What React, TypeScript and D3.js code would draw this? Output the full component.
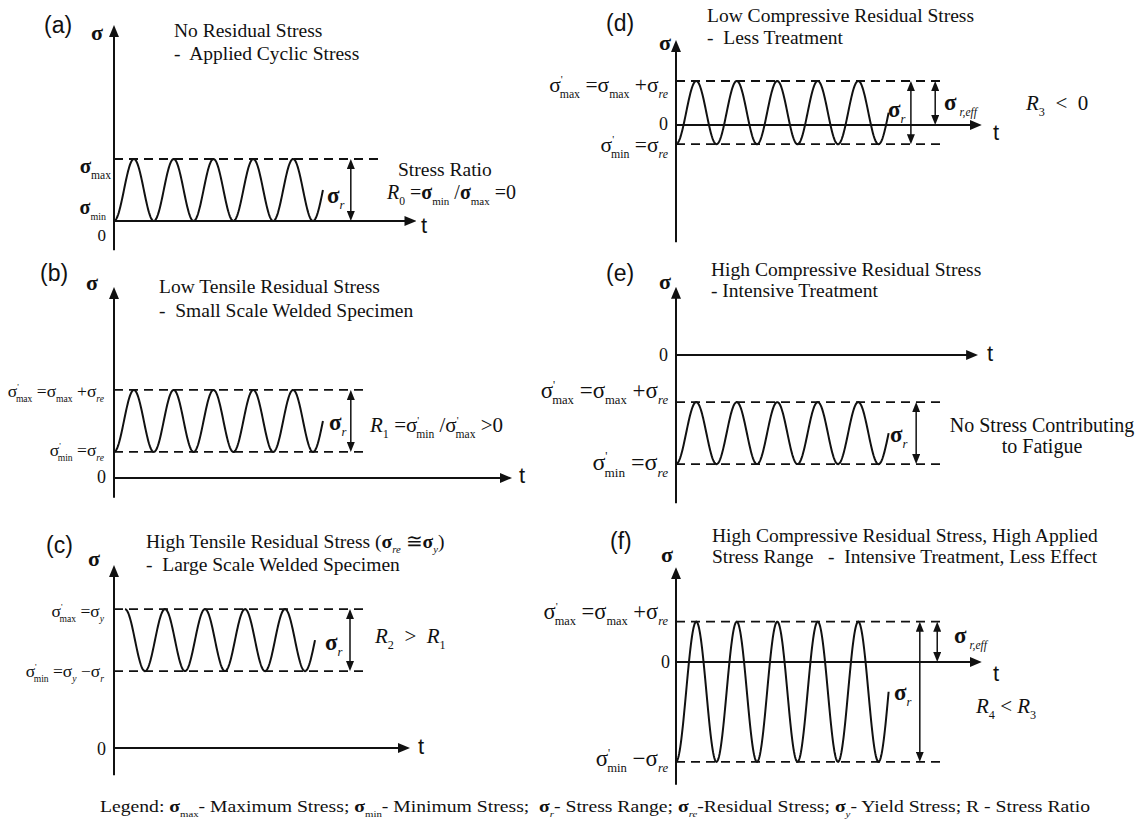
import React from 'react';
import * as d3 from 'd3';

// ---------------- Data (stress in units of applied stress range; time in load cycles) ----------------
const panelLetters = ['(a)', '(b)', '(c)', '(d)', '(e)', '(f)'];
const titleLine1 = [
  'No Residual Stress',
  'Low Tensile Residual Stress',
  'High Tensile Residual Stress (',
  'Low Compressive Residual Stress',
  'High Compressive Residual Stress',
  'High Compressive Residual Stress, High Applied',
];
const titleLine2 = [
  '-  Applied Cyclic Stress',
  '-  Small Scale Welded Specimen',
  '-  Large Scale Welded Specimen',
  '-  Less Treatment',
  '- Intensive Treatment',
  'Stress Range   -  Intensive Treatment, Less Effect',
];
const stressMax = [1.0, 1.42, 2.24, 0.71, -0.76, 0.65];
const stressMin = [0.0, 0.42, 1.24, -0.31, -1.76, -1.61];
const axisTop = [3.16, 3.08, 2.95, 1.37, 1.1, 1.53];
const axisBottom = [-0.47, -0.32, -0.44, -1.89, -2.39, -1.98];
const waveStart = [0, 0, 0.275, 0, 0, 0];
const waveStartPhase = [0.5, 0.5, 0, 0.5, 0.5, 0.5];
const waveCycles = [5.25, 5.25, 4.75, 5.25, 5.25, 5.25];
const timeAxisEnd = [7.6, 10.0, 7.4, 7.55, 7.46, 7.55];
const refLineEnd = [6.7, 6.35, 6.3, 6.6, 6.66, 6.6];
const rangeArrowAt = [5.95, 5.95, 5.9, 5.8, 5.93, 6.02];
const effArrowAt: (number | null)[] = [null, null, null, 6.4, null, 6.45];

// ---------------- Layout ----------------
const PX_PER_UNIT = 62;
const layout = [
  { axisX: 114, zeroY: 221, ppc: 39.8, letter: [44, 33], sig: [91, 40], title: [174, 37, 60], t: [421, 233], zero: [106, 241] },
  { axisX: 114, zeroY: 478, ppc: 39.8, letter: [40, 281], sig: [86, 290], title: [159, 293, 317], t: [519, 483], zero: [106, 483] },
  { axisX: 114, zeroY: 748, ppc: 40, letter: [46, 553], sig: [88, 566], title: [146, 548, 571], t: [418, 754], zero: [106, 755] },
  { axisX: 676, zeroY: 125, ppc: 40.5, letter: [606, 31], sig: [659, 50], title: [707, 22, 44], t: [993, 140], zero: [668, 130] },
  { axisX: 676, zeroY: 355, ppc: 40.5, letter: [606, 281], sig: [659, 289], title: [711, 276, 297], t: [987, 361], zero: [668, 361] },
  { axisX: 676, zeroY: 662, ppc: 40.5, letter: [610, 549], sig: [661, 562], title: [712, 542, 563], t: [993, 681], zero: [670, 668] },
];

const SERIF = "'Liberation Serif', 'Times New Roman', serif";
const SANS = "'Liberation Sans', Arial, sans-serif";
const T = 19.5;

type Seg = { t: string; b?: boolean; i?: boolean; sub?: boolean; sup?: boolean; k?: number; dx?: number };

function Rich({ x, y, size, segs, anchor = 'start', family = SERIF, textLength }: any) {
  let cur = 0;
  return (
    <text
      x={x}
      y={y}
      fontSize={size}
      fontFamily={family}
      textAnchor={anchor}
      style={{ whiteSpace: 'pre' }}
      textLength={textLength}
      lengthAdjust={textLength ? 'spacingAndGlyphs' : undefined}
      fill="#111"
    >
      {segs.map((s: Seg, j: number) => {
        const target = s.sub ? size * 0.28 : s.sup ? -size * 0.4 : 0;
        const dy = target - cur;
        cur = target;
        const fs = s.sub || s.sup ? size * (s.k ?? 0.58) : size * (s.k ?? 1);
        return (
          <tspan key={j} dy={dy !== 0 ? dy : undefined} dx={s.dx} fontSize={fs} fontWeight={s.b ? 'bold' : undefined} fontStyle={s.i ? 'italic' : undefined}>
            {s.t}
          </tspan>
        );
      })}
    </text>
  );
}

const sigB = (sub: string, it = true): Seg[] => [{ t: 'σ', b: true }, { t: sub, sub: true, i: it, k: 0.55 }];
const sigR = (sub: string, it = false): Seg[] => [{ t: 'σ' }, { t: sub, sub: true, i: it, k: 0.55 }];
const sigP = (sub: string): Seg[] => [{ t: 'σ' }, { t: "'", sup: true, k: 0.5 }, { t: sub, sub: true, k: 0.55, dx: -3 }];

function Panel({ i }: { i: number }) {
  const L = layout[i];
  const y = d3.scaleLinear().domain([0, 1]).range([L.zeroY, L.zeroY - PX_PER_UNIT]);
  const x = d3.scaleLinear().domain([0, 1]).range([L.axisX, L.axisX + L.ppc]);
  const mean = (stressMax[i] + stressMin[i]) / 2;
  const amp = (stressMax[i] - stressMin[i]) / 2;
  const n = 400;
  const pts: [number, number][] = d3.range(n + 1).map((k) => {
    const dt = (k / n) * waveCycles[i];
    const s = mean + amp * Math.cos(2 * Math.PI * (waveStartPhase[i] + dt));
    return [x(waveStart[i] + dt), y(s)];
  });
  const wave = d3.line()(pts) || '';
  const levels = [stressMax[i], stressMin[i]].filter((v) => v !== 0);
  const ra = rangeArrowAt[i];
  const ea = effArrowAt[i];
  return (
    <g>
      <text x={L.letter[0]} y={L.letter[1]} fontFamily={SANS} fontSize={23} fill="#111">{panelLetters[i]}</text>
      <text x={L.sig[0]} y={L.sig[1]} fontFamily={SERIF} fontSize={22} fontWeight="bold" fill="#111">σ</text>
      <text x={L.title[0]} y={L.title[2]} fontFamily={SERIF} fontSize={T} fill="#111" style={{ whiteSpace: 'pre' }}>{titleLine2[i]}</text>
      {/* axes */}
      <line x1={L.axisX} x2={L.axisX} y1={y(axisBottom[i])} y2={y(axisTop[i]) + 10} stroke="#111" strokeWidth={2} markerEnd="url(#axArrow)" />
      <line x1={L.axisX} x2={x(timeAxisEnd[i]) - 10} y1={y(0)} y2={y(0)} stroke="#111" strokeWidth={2} markerEnd="url(#axArrow)" />
      <text x={L.t[0]} y={L.t[1]} fontFamily={SANS} fontSize={22} fill="#111">t</text>
      <text x={L.zero[0]} y={L.zero[1]} fontFamily={SERIF} fontSize={i === 0 ? 17 : 18} textAnchor="end" fill="#111">0</text>
      {/* reference levels */}
      {levels.map((v, k) => (
        <line key={k} x1={L.axisX} x2={x(refLineEnd[i])} y1={y(v)} y2={y(v)} stroke="#111" strokeWidth={1.8} strokeDasharray="9 6" />
      ))}
      {/* cyclic stress */}
      <path d={wave} fill="none" stroke="#111" strokeWidth={2} />
      {/* stress range arrow */}
      <line x1={x(ra)} x2={x(ra)} y1={y(stressMax[i]) + 9} y2={y(stressMin[i]) - 9} stroke="#111" strokeWidth={1.5} markerStart="url(#rgArrow)" markerEnd="url(#rgArrow)" />
      {ea !== null && (
        <line x1={x(ea)} x2={x(ea)} y1={y(stressMax[i]) + 9} y2={y(0) - 9} stroke="#111" strokeWidth={1.5} markerStart="url(#rgArrow)" markerEnd="url(#rgArrow)" />
      )}
    </g>
  );
}

export default function App() {
  return (
    <svg width={1145} height={832} style={{ position: 'absolute', left: 0, top: 0, background: '#fff' }}>
      <defs>
        <marker id="axArrow" viewBox="0 0 12 10" refX={2} refY={5} markerWidth={12} markerHeight={10} markerUnits="userSpaceOnUse" orient="auto">
          <path d="M0,0 L12,5 L0,10 z" fill="#111" />
        </marker>
        <marker id="rgArrow" viewBox="0 0 10 8" refX={1} refY={4} markerWidth={10} markerHeight={8} markerUnits="userSpaceOnUse" orient="auto-start-reverse">
          <path d="M0,0 L10,4 L0,8 z" fill="#111" />
        </marker>
      </defs>
      <rect width={1145} height={832} fill="#fff" />
      {[0, 1, 2, 3, 4, 5].map((i) => <Panel key={i} i={i} />)}

      {/* titles line 1 */}
      <text x={174} y={37} fontFamily={SERIF} fontSize={T} fill="#111">{titleLine1[0]}</text>
      <text x={159} y={293} fontFamily={SERIF} fontSize={T} fill="#111">{titleLine1[1]}</text>
      <Rich x={146} y={548} size={T} segs={[{ t: titleLine1[2] }, ...sigB('re'), { t: ' ≅' }, ...sigB('y'), { t: ')' }]} />
      <text x={707} y={22} fontFamily={SERIF} fontSize={T} fill="#111">{titleLine1[3]}</text>
      <text x={711} y={276} fontFamily={SERIF} fontSize={T} fill="#111">{titleLine1[4]}</text>
      <text x={712} y={542} fontFamily={SERIF} fontSize={T} fill="#111">{titleLine1[5]}</text>

      {/* (a) */}
      <Rich x={111} y={173} size={21} anchor="end" segs={sigB('max', false)} />
      <Rich x={106} y={214} size={20} anchor="end" segs={[{ t: 'σ', b: true }, { t: 'min', sub: true, k: 0.5 }]} />
      <Rich x={327} y={203} size={23} segs={sigB('r')} />
      <text x={398} y={176} fontFamily={SERIF} fontSize={T} fill="#111">Stress Ratio</text>
      <Rich x={387} y={199} size={20} segs={[{ t: 'R', i: true }, { t: '0', sub: true }, { t: ' =' }, ...sigB('min', false), { t: ' /' }, ...sigB('max', false), { t: ' =0' }]} />

      {/* (b) */}
      <Rich x={104} y={397} size={17.5} anchor="end" segs={[...sigP('max'), { t: ' =' }, ...sigR('max'), { t: ' +' }, ...sigR('re', true)]} />
      <Rich x={104} y={456} size={17.5} anchor="end" segs={[...sigP('min'), { t: ' =' }, ...sigR('re', true)]} />
      <Rich x={329} y={430} size={23} segs={sigB('r')} />
      <Rich x={370} y={432} size={21} segs={[{ t: 'R', i: true }, { t: '1', sub: true }, { t: ' =' }, ...sigP('min'), { t: ' /' }, ...sigP('max'), { t: ' >0' }]} />

      {/* (c) */}
      <Rich x={104} y={617} size={17.5} anchor="end" segs={[...sigP('max'), { t: ' =' }, ...sigR('y', true)]} />
      <Rich x={104} y={677} size={17.5} anchor="end" segs={[...sigP('min'), { t: ' =' }, ...sigR('y', true), { t: ' −' }, ...sigR('r', true)]} />
      <Rich x={325} y={650} size={23} segs={sigB('r')} />
      <Rich x={375} y={643} size={21} segs={[{ t: 'R', i: true }, { t: '2', sub: true }, { t: '  >  ' }, { t: 'R', i: true }, { t: '1', sub: true }]} />

      {/* (d) */}
      <Rich x={668} y={92} size={21.5} anchor="end" segs={[...sigP('max'), { t: ' =' }, ...sigR('max'), { t: ' +' }, ...sigR('re', true)]} />
      <Rich x={668} y={152} size={21.5} anchor="end" segs={[...sigP('min'), { t: ' =' }, ...sigR('re', true)]} />
      <Rich x={888} y={117} size={23} segs={sigB('r')} />
      <Rich x={944} y={110} size={23} segs={[{ t: 'σ', b: true }, { t: ' r,eff', sub: true, i: true, k: 0.5 }]} />
      <Rich x={1026} y={110} size={21} segs={[{ t: 'R', i: true }, { t: '3', sub: true }, { t: '  <  0' }]} />

      {/* (e) */}
      <Rich x={668} y={398} size={23} anchor="end" segs={[...sigP('max'), { t: ' =' }, ...sigR('max'), { t: ' +' }, ...sigR('re', true)]} />
      <Rich x={668} y={470} size={24} anchor="end" segs={[...sigP('min'), { t: ' =' }, ...sigR('re', true)]} />
      <Rich x={890} y={442} size={23} segs={sigB('r')} />
      <text x={1042} y={432} fontFamily={SERIF} fontSize={20} textAnchor="middle" fill="#111">No Stress Contributing</text>
      <text x={1042} y={453} fontFamily={SERIF} fontSize={20} textAnchor="middle" fill="#111">to Fatigue</text>

      {/* (f) */}
      <Rich x={668} y={619} size={22.5} anchor="end" segs={[...sigP('max'), { t: ' =' }, ...sigR('max'), { t: ' +' }, ...sigR('re', true)]} />
      <Rich x={668} y={766} size={23} anchor="end" segs={[...sigP('min'), { t: ' −' }, ...sigR('re', true)]} />
      <Rich x={954} y={643} size={23} segs={[{ t: 'σ', b: true }, { t: ' r,eff', sub: true, i: true, k: 0.5 }]} />
      <Rich x={894} y={700} size={23} segs={sigB('r')} />
      <Rich x={976} y={713} size={21} segs={[{ t: 'R', i: true }, { t: '4', sub: true }, { t: ' < ' }, { t: 'R', i: true }, { t: '3', sub: true }]} />

      {/* legend */}
      <Rich
        x={100}
        y={812}
        size={16.5}
        textLength={990}
        segs={[
          { t: 'Legend: ' },
          ...sigB('max', false),
          { t: '- Maximum Stress; ' },
          ...sigB('min', false),
          { t: '- Minimum Stress;  ' },
          ...sigB('r'),
          { t: '- Stress Range; ' },
          ...sigB('re'),
          { t: '-Residual Stress; ' },
          ...sigB('y'),
          { t: '- Yield Stress; R - Stress Ratio' },
        ]}
      />
    </svg>
  );
}
